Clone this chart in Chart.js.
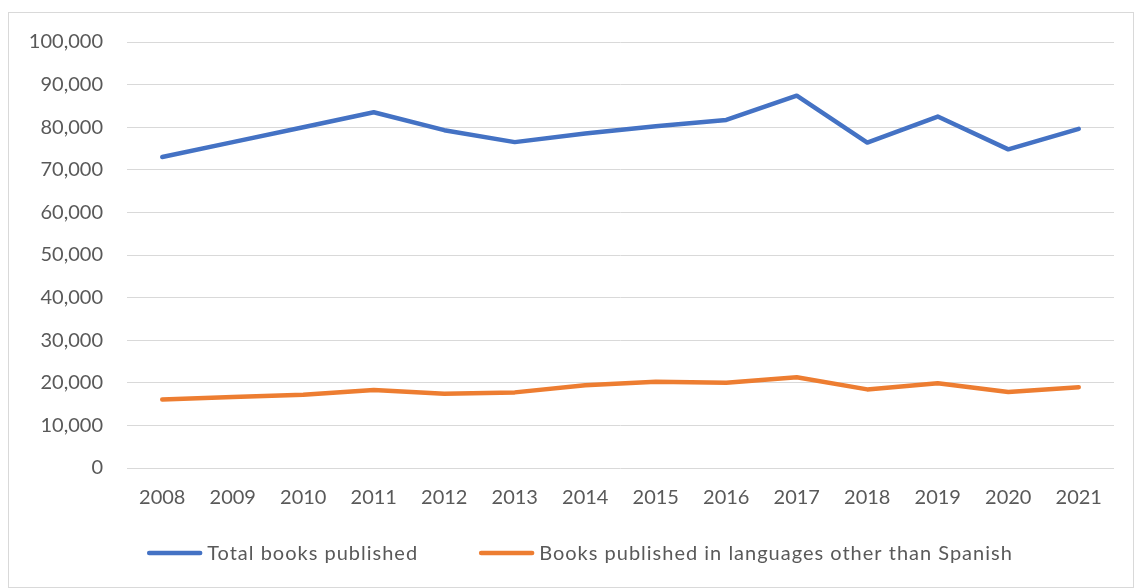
<!DOCTYPE html>
<html>
<head>
<meta charset="utf-8">
<script src="https://cdn.jsdelivr.net/npm/chart.js@4.4.0/dist/chart.umd.min.js"></script>
<style>
  html, body { margin: 0; padding: 0; background: #fff; }
  #frame {
    position: absolute;
    left: 8px;
    top: 12px;
    width: 1124px;
    height: 574px;
    border: 1px solid #d9d9d9;
  }
  canvas { display: block; }
</style>
</head>
<body>
<div id="frame"><canvas id="chart" width="1124" height="574"></canvas></div>
<script>
const years = ["2008", "2009", "2010", "2011", "2012", "2013", "2014", "2015", "2016", "2017", "2018", "2019", "2020", "2021"];
const totalBooks = [73000, 76500, 80000, 83500, 79300, 76500, 78500, 80200, 81700, 87400, 76400, 82500, 74800, 79600];
const otherLanguages = [16100, 16650, 17200, 18300, 17450, 17750, 19450, 20250, 20000, 21300, 18450, 19900, 17850, 18950];
const seriesNames = ["Total books published", "Books published in languages other than Spanish"];

const FONT = "Lato";
const TEXT = "#595959";
const GRID = "#d9d9d9";

Chart.defaults.font.family = FONT;
Chart.defaults.font.size = 20;
Chart.defaults.color = TEXT;

const lineStyle = {
  borderWidth: 4.5,
  pointRadius: 0,
  pointHoverRadius: 0,
  tension: 0,
  borderCapStyle: "round",
  borderJoinStyle: "round",
  fill: false,
};

// Excel-style legend: short line swatch, text right next to it, centred under the chart
const lineLegend = {
  id: "lineLegend",
  afterDraw(chart) {
    const ctx = chart.ctx;
    const swatch = 55, gap = 5, between = 61, y = 540;
    ctx.save();
    ctx.font = `20px ${FONT}`;
    ctx.letterSpacing = "1px";
    const items = chart.data.datasets.map((ds) => ({
      label: ds.label,
      color: ds.borderColor,
      w: ctx.measureText(ds.label).width,
    }));
    const total = items.reduce((s, it) => s + swatch + gap + it.w, 0) + between * (items.length - 1);
    let x = (chart.width - total) / 2 + 9;
    items.forEach((it) => {
      ctx.strokeStyle = it.color;
      ctx.lineWidth = 4.5;
      ctx.lineCap = "round";
      ctx.beginPath();
      ctx.moveTo(x + 2, y);
      ctx.lineTo(x + swatch - 2, y);
      ctx.stroke();
      ctx.fillStyle = TEXT;
      ctx.textBaseline = "middle";
      ctx.textAlign = "left";
      ctx.fillText(it.label, x + swatch + gap, y + 1);
      x += swatch + gap + it.w + between;
    });
    ctx.restore();
  },
};

new Chart(document.getElementById("chart"), {
  type: "line",
  data: {
    labels: years,
    datasets: [
      { ...lineStyle, label: seriesNames[0], data: totalBooks, borderColor: "#4472C4", backgroundColor: "#4472C4" },
      { ...lineStyle, label: seriesNames[1], data: otherLanguages, borderColor: "#ED7D31", backgroundColor: "#ED7D31" },
    ],
  },
  options: {
    responsive: false,
    animation: false,
    layout: { padding: { top: 29, right: 19, left: 0, bottom: 77 } },
    plugins: {
      tooltip: { enabled: false },
      legend: { display: false },
    },
    scales: {
      x: {
        offset: true,
        grid: { display: false, drawTicks: false },
        border: { display: false },
        ticks: { padding: 18, maxRotation: 0, font: { size: 20 } },
        afterFit: (scale) => { scale.height = 42; },
      },
      y: {
        min: 0,
        max: 100000,
        ticks: {
          stepSize: 10000,
          padding: 24,
          font: { size: 20 },
          callback: (v) => v.toLocaleString("en-US"),
        },
        grid: { color: GRID, lineWidth: 1, drawTicks: false },
        border: { display: false },
        afterFit: (scale) => {
          scale.width = 118;
          scale.paddingTop = 0;
          scale.paddingBottom = 0;
        },
      },
    },
  },
  plugins: [lineLegend],
});
</script>
</body>
</html>
